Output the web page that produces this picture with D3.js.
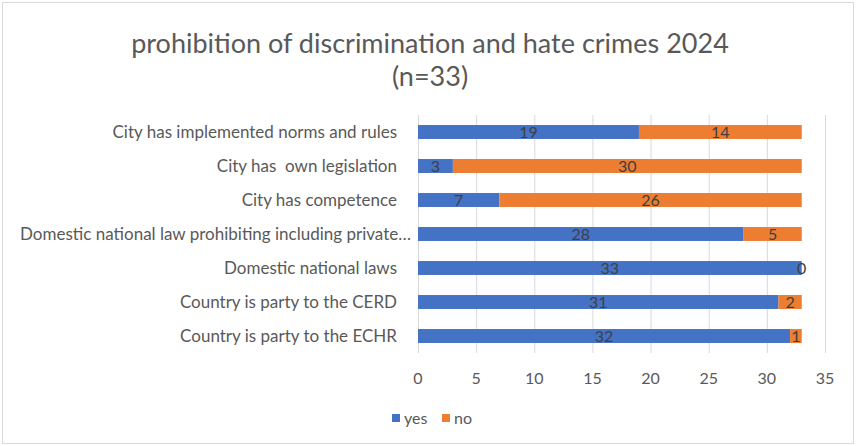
<!DOCTYPE html>
<html><head><meta charset="utf-8">
<script src="https://cdn.jsdelivr.net/npm/d3@7"></script>
<style>body{margin:0;background:#fff}svg{display:block}text{white-space:pre}</style>
</head><body>
<svg id="c" width="856" height="446"></svg>
<script>
const categories = [
  "City has implemented norms and rules",
  "City has  own legislation",
  "City has competence",
  "Domestic national law prohibiting including private\u2026",
  "Domestic national laws",
  "Country is party to the CERD",
  "Country is party to the ECHR"
];
const yesValues = [19, 3, 7, 28, 33, 31, 32];
const noValues = [14, 30, 26, 5, 0, 2, 1];
const seriesNames = ["yes", "no"];
const seriesColors = ["#4472C4", "#ED7D31"];
const xTicks = [0, 5, 10, 15, 20, 25, 30, 35];

const svg = d3.select("#c");
const font = "Lato, 'Open Sans', sans-serif";
svg.append("rect").attr("x", 2.5).attr("y", 2.5).attr("width", 851).attr("height", 441)
  .attr("fill", "#fff").attr("stroke", "#d9d9d9");

const x = d3.scaleLinear().domain([0, 35]).range([418, 825]);
const y = d3.scaleBand().domain(categories).range([115, 353]).paddingInner(0.59).paddingOuter(0.295);

// grid
svg.append("g").selectAll("line").data(xTicks).join("line")
  .attr("x1", d => x(d) + 0.5).attr("x2", d => x(d) + 0.5)
  .attr("y1", 115).attr("y2", 353)
  .attr("stroke", "#d9d9d9").attr("stroke-width", 1);

const rows = categories.map((c, i) => ({c, yes: yesValues[i], no: noValues[i]}));
const stack = d3.stack().keys(["yes", "no"])(rows);

const g = svg.append("g");
stack.forEach((s, si) => {
  g.append("g").selectAll("rect").data(s).join("rect")
    .attr("x", d => x(d[0])).attr("width", d => x(d[1]) - x(d[0]))
    .attr("y", d => y(d.data.c)).attr("height", y.bandwidth())
    .attr("fill", seriesColors[si]);
});
stack.forEach((s, si) => {
  g.append("g").selectAll("text").data(s).join("text")
    .attr("x", d => (x(d[0]) + x(d[1])) / 2)
    .attr("y", d => y(d.data.c) + y.bandwidth() / 2)
    .attr("dy", "0.36em").attr("text-anchor", "middle")
    .attr("font-family", font).attr("font-size", 16).attr("fill", "#404040")
    .text(d => d[1] - d[0]);
});

// category labels
svg.append("g").selectAll("text").data(categories).join("text")
  .attr("x", (d, i) => d.endsWith("\u2026") ? 411 : 397)
  .attr("y", d => y(d) + y.bandwidth() / 2)
  .attr("dy", "0.36em").attr("text-anchor", "end")
  .attr("font-family", font).attr("font-size", 17).attr("fill", "#595959")
  .text(d => d);

// x axis tick labels
svg.append("g").selectAll("text").data(xTicks).join("text")
  .attr("x", d => x(d)).attr("y", 378).attr("dy", "0.36em")
  .attr("text-anchor", "middle")
  .attr("font-family", font).attr("font-size", 16).attr("fill", "#595959")
  .text(d => d);

// title
svg.append("text").attr("x", 430).attr("y", 43).attr("dy", "0.36em").attr("text-anchor", "middle")
  .attr("font-family", font).attr("font-size", 27).attr("fill", "#595959")
  .text("prohibition of discrimination and hate crimes 2024");
svg.append("text").attr("x", 430).attr("y", 76).attr("dy", "0.36em").attr("text-anchor", "middle")
  .attr("font-family", font).attr("font-size", 27).attr("fill", "#595959")
  .text("(n=33)");

// legend
const leg = svg.append("g");
const legX = [392, 442];
seriesNames.forEach((n, i) => {
  leg.append("rect").attr("x", legX[i]).attr("y", 414).attr("width", 8).attr("height", 8).attr("fill", seriesColors[i]);
  leg.append("text").attr("x", legX[i] + 12).attr("y", 418).attr("dy", "0.36em")
    .attr("font-family", font).attr("font-size", 16).attr("fill", "#595959").text(n);
});
</script>
</body></html>
